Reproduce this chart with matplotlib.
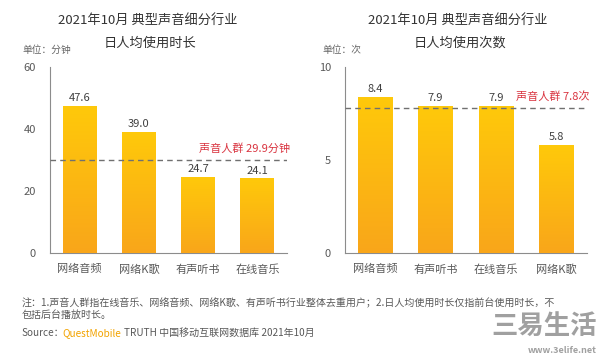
import numpy as np
import matplotlib.pyplot as plt
from matplotlib.colors import LinearSegmentedColormap

plt.rcParams['font.family'] = ['Noto Sans CJK SC', 'DejaVu Sans']

# 数据
cats_time = ["网络音频", "网络K歌", "有声听书", "在线音乐"]
vals_time = [47.6, 39.0, 24.7, 24.1]
avg_time = 29.9

cats_count = ["网络音频", "有声听书", "在线音乐", "网络K歌"]
vals_count = [8.4, 7.9, 7.9, 5.8]
avg_count = 7.8

ticks_time = [0, 20, 40, 60]
ticks_count = [0, 5, 10]

fig = plt.figure(figsize=(6, 3.55), dpi=100)

# 渐变色
grad = np.linspace(0, 1, 256).reshape(-1, 1)
cmap = LinearSegmentedColormap.from_list("y", ["#F9A61A", "#FFC90A"])


def draw_panel(rect, cats, vals, avg, ticks, ymax, avg_label):
    ax = fig.add_axes(rect)
    x = np.arange(len(cats))
    bars = ax.bar(x, vals, width=0.57, color="#FDB913", zorder=2)
    for b in bars:
        x0, y0 = b.get_x(), b.get_y()
        im = ax.imshow(grad, cmap=cmap, aspect="auto", origin="lower",
                       extent=[x0, x0 + b.get_width(), y0, y0 + b.get_height()], zorder=3)
        im.set_clip_path(b)
    for xi, v in zip(x, vals):
        ax.text(xi, v + ymax * 0.015, f"{v:.1f}", ha="center", va="bottom",
                fontsize=8, color="#404040", zorder=4)
    ax.axhline(avg, color="#707070", linestyle=(0, (4, 3)), linewidth=1, zorder=5)
    ax.text(len(cats) - 0.45, avg + ymax * 0.035, avg_label, ha="right", va="bottom",
            fontsize=8, color="#D9333F")
    ax.set_xlim(-0.5, len(cats) - 0.5)
    ax.set_ylim(0, ymax)
    ax.set_yticks(ticks)
    ax.set_xticks(x)
    ax.set_xticklabels(cats)
    ax.tick_params(length=0, labelsize=8, colors="#595959", pad=8)
    ax.tick_params(axis="y", pad=10)
    for s in ["top", "right"]:
        ax.spines[s].set_visible(False)
    for s in ["left", "bottom"]:
        ax.spines[s].set_color("#8c8c8c")
        ax.spines[s].set_linewidth(0.8)
    ax.set_facecolor("none")
    return ax


draw_panel([0.0833, 0.287, 0.395, 0.524], cats_time, vals_time, avg_time, ticks_time,
           60, "声音人群 29.9分钟")
draw_panel([0.575, 0.287, 0.403, 0.524], cats_count, vals_count, avg_count, ticks_count,
           10, "声音人群 7.8次")

# 标题
fig.text(0.247, 0.944, "2021年10月 典型声音细分行业", ha="center", va="center",
         fontsize=9.5, color="#333333")
fig.text(0.25, 0.878, "日人均使用时长", ha="center", va="center", fontsize=9.5, color="#333333")
fig.text(0.763, 0.944, "2021年10月 典型声音细分行业", ha="center", va="center",
         fontsize=9.5, color="#333333")
fig.text(0.767, 0.878, "日人均使用次数", ha="center", va="center", fontsize=9.5, color="#333333")

fig.text(0.037, 0.859, "单位：分钟", ha="left", va="center", fontsize=7, color="#666666")
fig.text(0.537, 0.859, "单位：次", ha="left", va="center", fontsize=7, color="#666666")

# 注释
fig.text(0.036, 0.146, "注：1.声音人群指在线音乐、网络音频、网络K歌、有声听书行业整体去重用户；2.日人均使用时长仅指前台使用时长，不",
         ha="left", va="center", fontsize=7.2, color="#595959")
fig.text(0.036, 0.114, "包括后台播放时长。", ha="left", va="center", fontsize=7.2, color="#595959")
t1 = fig.text(0.036, 0.063, "Source：", ha="left", va="center", fontsize=7.2, color="#595959")
t2 = plt.annotate("QuestMobile", xy=(1, 0.5), xycoords=t1, xytext=(-1, 0),
                  textcoords="offset points", ha="left", va="center",
                  fontsize=7.2, color="#F2A300", annotation_clip=False)
plt.annotate("TRUTH 中国移动互联网数据库 2021年10月", xy=(1, 0.5), xycoords=t2, xytext=(2, 0),
             textcoords="offset points", ha="left", va="center",
             fontsize=7.2, color="#595959", annotation_clip=False)

# 水印
fig.text(0.995, 0.08, "三易生活", ha="right", va="center", fontsize=19, color="#a0a0a0",
         weight="bold")
fig.text(0.995, 0.014, "www.3elife.net", ha="right", va="center", fontsize=6.5, color="#a0a0a0",
         weight="bold")

fig.savefig("out.png", dpi=100)
